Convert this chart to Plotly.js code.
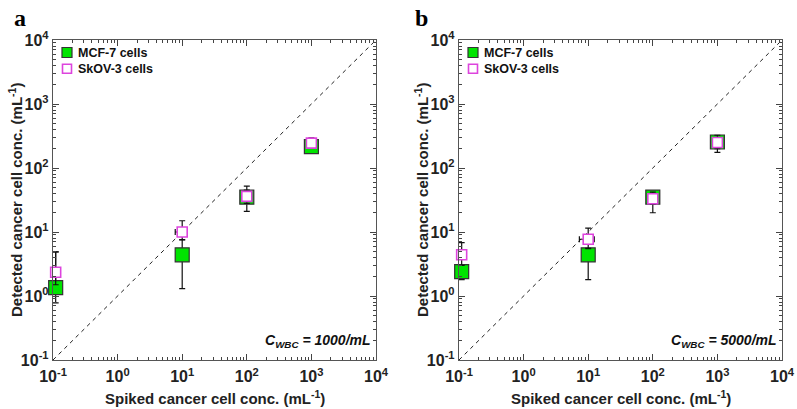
<!DOCTYPE html>
<html><head><meta charset="utf-8">
<script src="https://cdn.plot.ly/plotly-3.0.1.min.js"></script>
<style>html,body{margin:0;padding:0;background:#fff}#chart{width:797px;height:409px}</style>
</head><body><div id="chart"></div>
<script>
// Spiked concentrations (mL^-1)
const spiked = [0.11, 10, 100, 1000];
// Panel a: C_WBC = 1000/mL
const mcfA    = [1.35, 4.4, 35, 215];
const mcfAHi  = [4.9, 7.6, 52, 260];
const mcfALo  = [0.78, 1.3, 21, 180];
const mcfAXLo = [0, 1.8, 0, 0];
const skA     = [2.35, 10, 36, 245];
const skAHi   = [4.9, 15, 45, 295];
const skALo   = [1.5, 7.5, 28, 205];
const skAXLo  = [0, 2.2, 0, 0];
const skAXHi  = [0, 0.5, 0, 0];
// Panel b: C_WBC = 5000/mL
const mcfB    = [2.4, 4.4, 35, 255];
const mcfBHi  = [3.0, 5.6, 43, 320];
const mcfBLo  = [1.8, 1.8, 27, 175];
const skB     = [4.4, 7.7, 33, 250];
const skBHi   = [6.8, 11.5, 42, 325];
const skBLo   = [3.0, 5.5, 20, 200];
const skBXLo  = [0, 2.7, 0, 0];
const skBXHi  = [0, 2.4, 0, 0];
// identity line
const idLine = [0.1, 10000];
const tickVals = [0.1, 1, 10, 100, 1000, 10000];
const tickText = ['10<sup>-1</sup>','10<sup>0</sup>','10<sup>1</sup>','10<sup>2</sup>','10<sup>3</sup>','10<sup>4</sup>'];
const labels = ['MCF-7 cells', 'SkOV-3 cells'];
const notes = ['C<sub>WBC</sub> = 1000/mL', 'C<sub>WBC</sub> = 5000/mL'];
const panelLetters = ['a', 'b'];
const xTitle = 'Spiked cancer cell conc. (mL<sup>-1</sup>)';
const yTitle = 'Detected cancer cell conc. (mL<sup>-1</sup>)';

const GREEN = '#00e400', MAGENTA = '#dd44dd';
const diff = (a, b) => a.map((v, i) => v - b[i]);
const minorVals = [];
for (let e = -1; e < 4; e++) for (let m = 2; m <= 9; m++) minorVals.push(m * Math.pow(10, e));

function series(xa, ya, y, hi, lo, xlo, xhi, isMcf) {
  const t = {
    x: spiked, y: y, xaxis: xa, yaxis: ya, showlegend: false,
    type: 'scatter', mode: 'markers', cliponaxis: false,
    name: isMcf ? labels[0] : labels[1],
    error_y: {type: 'data', symmetric: false, array: diff(hi, y), arrayminus: diff(y, lo),
              color: '#111', thickness: 1.2, width: 3},
    marker: isMcf
      ? {symbol: 'square', size: 14, color: GREEN, line: {color: '#333', width: 1.2}}
      : {symbol: 'square', size: 10, color: '#ffffff', line: {color: MAGENTA, width: 1.6}}
  };
  if (xlo) {
    t.error_x = {type: 'data', symmetric: false, array: xhi || spiked.map(() => 0), arrayminus: xlo,
                 color: '#111', thickness: 1.2, width: 3};
  }
  return t;
}

const traces = [
  {x: idLine, y: idLine, xaxis: 'x', yaxis: 'y', mode: 'lines', showlegend: false,
   line: {color: '#222', width: 1, dash: '4px,4px'}, hoverinfo: 'skip'},
  {x: idLine, y: idLine, xaxis: 'x2', yaxis: 'y2', mode: 'lines', showlegend: false,
   line: {color: '#222', width: 1, dash: '4px,4px'}, hoverinfo: 'skip'},
  series('x', 'y', mcfA, mcfAHi, mcfALo, mcfAXLo, null, true),
  series('x', 'y', skA, skAHi, skALo, skAXLo, skAXHi, false),
  series('x2', 'y2', mcfB, mcfBHi, mcfBLo, null, null, true),
  series('x2', 'y2', skB, skBHi, skBLo, skBXLo, skBXHi, false)
];

const FAM = 'Liberation Sans, Arial, sans-serif';
function axis(extra) {
  return Object.assign({
    type: 'log', range: [-1, 4], tickmode: 'array', tickvals: tickVals, ticktext: tickText,
    ticks: 'inside', ticklen: 6, tickwidth: 1, tickcolor: '#444',
    showline: true, linecolor: '#555', linewidth: 1.2, mirror: 'allticks',
    showgrid: false, zeroline: false, automargin: false,
    tickfont: {family: FAM, size: 16, color: '#222', weight: 'bold'},
    minor: {tickvals: minorVals, ticks: 'inside', ticklen: 3, tickcolor: '#444', tickwidth: 1, showgrid: false}
  }, extra);
}
const titleFont = {family: FAM, size: 15, color: '#222', weight: 'bold'};
const yDom = [49/409, 369/409];
const xDoms = [[53/797, 376/797], [459/797, 782/797]];

const LEG_FS = 12.5, LEG_LH = LEG_FS * 1.3;
const shapes = [], annotations = [];
xDoms.forEach((d, i) => {
  const px = d[0] * 797; // left edge of the plot area in px
  const mx = px + 14, my1 = 52.5, my2 = my1 + LEG_LH;
  // legend swatches
  shapes.push({type: 'rect', xref: 'paper', yref: 'paper',
    x0: (mx - 5) / 797, x1: (mx + 5) / 797, y0: 1 - (my1 + 5) / 409, y1: 1 - (my1 - 5) / 409,
    fillcolor: GREEN, line: {color: '#333', width: 1.2}});
  shapes.push({type: 'rect', xref: 'paper', yref: 'paper',
    x0: (mx - 4.5) / 797, x1: (mx + 4.5) / 797, y0: 1 - (my2 + 4.5) / 409, y1: 1 - (my2 - 4.5) / 409,
    fillcolor: '#fff', line: {color: MAGENTA, width: 1.6}});
  annotations.push({
    text: '<b>' + labels[0] + '</b><br><b>' + labels[1] + '</b>', xref: 'paper', yref: 'paper',
    x: (px + 23) / 797, y: 1 - (my1 + my2) / 2 / 409, align: 'left',
    xanchor: 'left', yanchor: 'middle', showarrow: false,
    font: {family: FAM, size: LEG_FS, color: '#111'}});
  annotations.push({text: '<b>' + panelLetters[i] + '</b>', xref: 'paper', yref: 'paper',
    x: (i === 0 ? 12 : 413) / 797, y: 1 - 18 / 409, xanchor: 'left', yanchor: 'middle',
    showarrow: false, font: {family: 'Liberation Serif, Times New Roman, serif', size: 24, color: '#000'}});
  annotations.push({text: '<b><i>' + notes[i] + '</i></b>',
    xref: (i === 0 ? 'x' : 'x2') + ' domain', yref: (i === 0 ? 'y' : 'y2') + ' domain', x: 0.99, y: 0.06,
    xanchor: 'right', yanchor: 'middle', showarrow: false, font: {family: FAM, size: 14, color: '#111'}});
  // axis titles
  annotations.push({text: '<b>' + xTitle + '</b>', xref: 'paper', yref: 'paper',
    x: (d[0] + d[1]) / 2, y: 1 - 397 / 409, xanchor: 'center', yanchor: 'middle',
    showarrow: false, font: titleFont});
  annotations.push({text: '<b>' + yTitle + '</b>', xref: 'paper', yref: 'paper',
    x: (px - 38) / 797, y: (yDom[0] + yDom[1]) / 2, xanchor: 'center', yanchor: 'middle',
    textangle: -90, showarrow: false, font: titleFont});
});

const layout = {
  width: 797, height: 409, margin: {l: 0, r: 0, t: 0, b: 0},
  paper_bgcolor: '#fff', plot_bgcolor: '#fff', font: {family: FAM, color: '#222'},
  xaxis: axis({domain: xDoms[0], anchor: 'y', ticklabelstandoff: 2}),
  yaxis: axis({domain: yDom, anchor: 'x'}),
  xaxis2: axis({domain: xDoms[1], anchor: 'y2', ticklabelstandoff: 2}),
  yaxis2: axis({domain: yDom, anchor: 'x2'}),
  shapes: shapes, annotations: annotations, showlegend: false
};
Plotly.newPlot('chart', traces, layout, {displayModeBar: false, staticPlot: true});
</script></body></html>
